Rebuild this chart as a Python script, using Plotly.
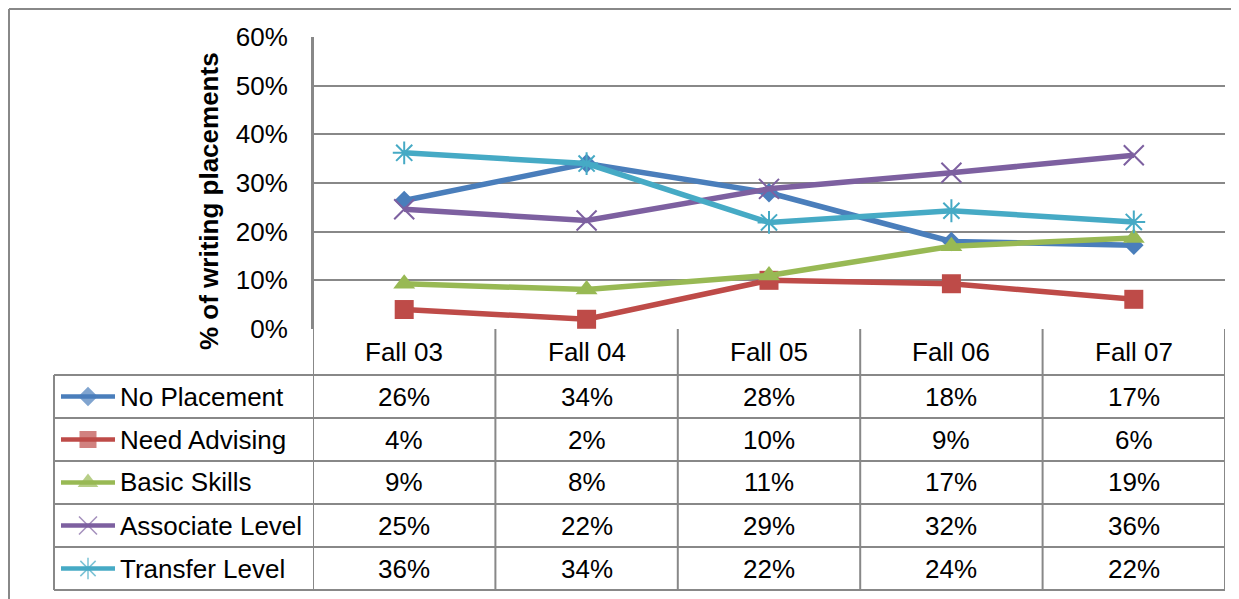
import plotly.graph_objects as go

# the page body has an 8px margin, so the figure is drawn 8px in from the window edge
OFF = 8
W, H = 1239 - OFF, 599 - OFF

seasons = ['Fall 03', 'Fall 04', 'Fall 05', 'Fall 06', 'Fall 07']
series_names = ['No Placement', 'Need Advising', 'Basic Skills', 'Associate Level', 'Transfer Level']

no_placement = [0.264, 0.340, 0.280, 0.180, 0.172]
need_advising = [0.040, 0.020, 0.100, 0.093, 0.061]
basic_skills = [0.093, 0.081, 0.110, 0.170, 0.187]
associate_level = [0.246, 0.223, 0.288, 0.321, 0.357]
transfer_level = [0.362, 0.340, 0.219, 0.243, 0.220]

y_ticks = [0, 0.1, 0.2, 0.3, 0.4, 0.5, 0.6]

colors = ['#4A7EBB', '#BE4B48', '#98B954', '#7D60A0', '#46AAC5']
symbols = ['diamond', 'square', 'triangle-up', 'x-thin', 'asterisk']
sizes = [15, 19, 19, 20, 19]
legend_sizes = [15, 17, 18, 18, 18]

all_series = [no_placement, need_advising, basic_skills, associate_level, transfer_level]

FONT = 'Liberation Sans, Arial, sans-serif'
FS = 26
GRID = '#888888'

# window pixel layout of the excel-style plot + data table
plot_l, plot_r, plot_t, plot_b = 313, 1225, 37, 329
tab_l = 54
row_edges = [375, 418, 461, 504, 547, 590]


def px(x):
    return (x - OFF) / W


def py(y):
    return 1 - (y - OFF) / H


fig = go.Figure()

for name, vals, c, s, sz in zip(series_names, all_series, colors, symbols, sizes):
    thin = s in ('x-thin', 'asterisk')
    fig.add_trace(go.Scatter(
        x=seasons, y=vals, name=name, mode='lines+markers',
        line=dict(color=c, width=5.5),
        marker=dict(symbol=s, size=sz, color=c,
                    line=dict(color=c, width=2 if thin else 0)),
        showlegend=False, hoverinfo='skip'))

# legend keys inside the table (pixel axes)
for i, (name, c, s, sz) in enumerate(zip(series_names, colors, symbols, legend_sizes)):
    yc = (row_edges[i] + row_edges[i + 1]) / 2
    thin = s in ('x-thin', 'asterisk')
    fig.add_trace(go.Scatter(
        x=[61, 88, 115], y=[yc, yc, yc], xaxis='x2', yaxis='y2',
        mode='lines+markers',
        line=dict(color=c, width=4.5),
        marker=dict(symbol=s, size=[0, sz, 0], color=c,
                    line=dict(color=c, width=1.5 if thin else 0)),
        showlegend=False, hoverinfo='skip'))

shapes = []
annotations = []


def hline(y, x0, x1):
    shapes.append(dict(type='line', xref='paper', yref='paper',
                       x0=px(x0), x1=px(x1), y0=py(y), y1=py(y),
                       line=dict(color=GRID, width=2)))


def label(x, y, text, xref='paper', xanchor='center', **kw):
    annotations.append(dict(x=x, xref=xref, y=y, yref='paper', text=text,
                            xanchor=xanchor, yanchor='middle', showarrow=False,
                            font=dict(size=FS, color='black', family=FONT), **kw))


# outer frame (left + top)
hline(9, 9, 1239)
shapes.append(dict(type='line', xref='paper', yref='paper', x0=px(9), x1=px(9),
                   y0=py(9), y1=0, line=dict(color=GRID, width=2)))

# table rows
for y in row_edges:
    hline(y, tab_l, plot_r)
shapes.append(dict(type='line', xref='paper', yref='paper', x0=px(tab_l), x1=px(tab_l),
                   y0=py(row_edges[0]), y1=py(row_edges[-1]), line=dict(color=GRID, width=2)))

# table columns follow the category axis
for k in range(len(seasons) + 1):
    shapes.append(dict(type='line', xref='x', yref='paper', x0=k - 0.5, x1=k - 0.5,
                       y0=py(plot_b if k else plot_t), y1=py(row_edges[-1]),
                       line=dict(color=GRID, width=2)))

# header row
for s in seasons:
    label(s, py((plot_b + row_edges[0]) / 2), s, xref='x')

# legend labels + values
for i, (name, vals) in enumerate(zip(series_names, all_series)):
    yc = py((row_edges[i] + row_edges[i + 1]) / 2)
    label(px(118), yc, name, xanchor='left')
    for s, v in zip(seasons, vals):
        label(s, yc, f'{v:.0%}', xref='x')

# y axis title
label(px(209), py(201), '<b>% of writing placements</b>', textangle=-90)

fig.update_layout(
    width=W, height=H, autosize=False,
    margin=dict(l=0, r=0, t=0, b=0, autoexpand=False),
    paper_bgcolor='white', plot_bgcolor='rgba(0,0,0,0)',
    font=dict(family=FONT, color='black'),
    xaxis=dict(domain=[px(plot_l), px(plot_r)], range=[-0.5, 4.5], type='category',
               categoryarray=seasons, showgrid=False, showticklabels=False,
               zeroline=False, showline=False, fixedrange=True, automargin=False),
    yaxis=dict(domain=[py(plot_b), py(plot_t)], range=[0, 0.6], tickvals=y_ticks,
               tickformat='.0%', showgrid=True, gridcolor=GRID, gridwidth=2,
               zeroline=False, showline=True, linecolor=GRID, linewidth=2,
               ticks='', ticklabelstandoff=18, tickfont=dict(size=FS, color='black'),
               fixedrange=True, automargin=False),
    xaxis2=dict(domain=[0, 1], range=[OFF, OFF + W], visible=False, anchor='y2',
                automargin=False, fixedrange=True),
    yaxis2=dict(domain=[0, 1], range=[OFF + H, OFF], visible=False, anchor='x2',
                automargin=False, fixedrange=True),
    shapes=shapes,
    annotations=annotations,
)

fig.write_html('out.html')
